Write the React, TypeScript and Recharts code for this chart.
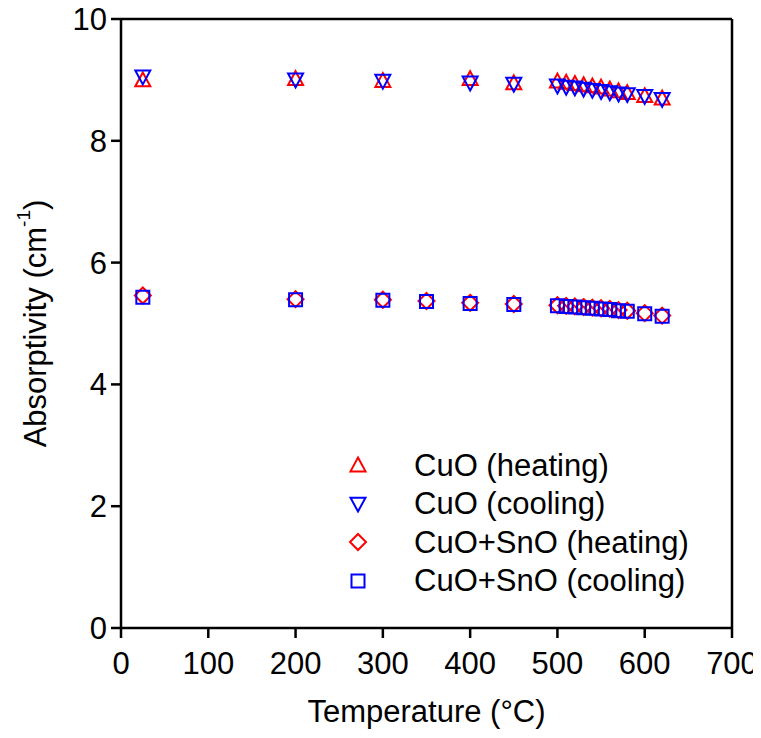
import React from "react";
import {
  ScatterChart,
  Scatter,
  XAxis,
  YAxis,
  ReferenceLine,
} from "recharts";

const cuoTemps = [25, 200, 300, 400, 450, 500, 510, 520, 530, 540, 550, 560, 570, 580, 600, 620];
const cuoHeating = [9.0, 9.02, 8.99, 9.02, 8.95, 8.98, 8.96, 8.94, 8.92, 8.9, 8.88, 8.85, 8.82, 8.79, 8.74, 8.7];
const cuoCooling = [9.05, 9.0, 8.98, 8.95, 8.93, 8.9, 8.88, 8.87, 8.85, 8.83, 8.81, 8.79, 8.77, 8.76, 8.73, 8.68];

const snoTemps = [25, 200, 300, 350, 400, 450, 500, 510, 520, 530, 540, 550, 560, 570, 580, 600, 620];
const snoHeating = [5.46, 5.4, 5.39, 5.37, 5.34, 5.32, 5.3, 5.29, 5.28, 5.27, 5.26, 5.25, 5.24, 5.22, 5.21, 5.17, 5.13];
const snoCooling = [5.43, 5.39, 5.38, 5.36, 5.33, 5.31, 5.29, 5.28, 5.27, 5.26, 5.25, 5.24, 5.23, 5.21, 5.2, 5.16, 5.12];

const xTicks = [0, 100, 200, 300, 400, 500, 600, 700];
const yTicks = [0, 2, 4, 6, 8, 10];

const seriesNames = ["CuO (heating)", "CuO (cooling)", "CuO+SnO (heating)", "CuO+SnO (cooling)"];
const seriesColors = ["#ff0000", "#0000ff", "#ff0000", "#0000ff"];
const seriesShapes = ["up", "down", "diamond", "square"];

const toPoints = (xs: number[], ys: number[]) => xs.map((x, i) => ({ x, y: ys[i] }));

const FONT = "'Liberation Sans', Arial, sans-serif";
const FS = 31;

function markerPath(kind: string, cx: number, cy: number): string {
  const s = 7.5;
  if (kind === "up") {
    return `M${cx},${cy - s} L${cx + s},${cy + s * 0.85} L${cx - s},${cy + s * 0.85} Z`;
  }
  if (kind === "down") {
    return `M${cx},${cy + s} L${cx + s},${cy - s * 0.85} L${cx - s},${cy - s * 0.85} Z`;
  }
  if (kind === "diamond") {
    const d = 8;
    return `M${cx},${cy - d} L${cx + d},${cy} L${cx},${cy + d} L${cx - d},${cy} Z`;
  }
  const q = 6.5;
  return `M${cx - q},${cy - q} L${cx + q},${cy - q} L${cx + q},${cy + q} L${cx - q},${cy + q} Z`;
}

const makeShape = (kind: string, color: string) => (props: any) => {
  const { cx, cy } = props;
  if (cx == null || cy == null) return <g />;
  return <path d={markerPath(kind, cx, cy)} fill="none" stroke={color} strokeWidth={2} />;
};

const LegendBox = () => (
  <div
    style={{
      position: "absolute",
      left: 343,
      top: 446,
      fontFamily: FONT,
      fontSize: FS,
      color: "#000",
      lineHeight: 1,
    }}
  >
    {seriesNames.map((name, i) => (
      <div key={name} style={{ display: "flex", alignItems: "center", height: 38.5 }}>
        <svg width={30} height={30} style={{ marginRight: 41 }}>
          <path d={markerPath(seriesShapes[i], 15, 15)} fill="none" stroke={seriesColors[i]} strokeWidth={2} />
        </svg>
        <span style={{ whiteSpace: "nowrap" }}>{name}</span>
      </div>
    ))}
  </div>
);

const YLabel = (props: any) => {
  const vb = props.viewBox || {};
  const cx = 35;
  const cy = (vb.y ?? 0) + (vb.height ?? 0) / 2;
  return (
    <text
      x={cx}
      y={cy}
      transform={`rotate(-90, ${cx}, ${cy})`}
      textAnchor="middle"
      dominantBaseline="central"
      fontFamily={FONT}
      fontSize={FS}
      fill="#000"
    >
      Absorptivity (cm
      <tspan fontSize={19} dy={-12}>-1</tspan>
      <tspan dy={12}>)</tspan>
    </text>
  );
};

const XLabel = (props: any) => {
  const vb = props.viewBox || {};
  const cx = (vb.x ?? 0) + (vb.width ?? 0) / 2;
  return (
    <text x={cx} y={722} textAnchor="middle" fontFamily={FONT} fontSize={FS} fill="#000">
      Temperature (°C)
    </text>
  );
};

export default function App() {
  React.useEffect(() => {
    document.body.style.overflow = "hidden";
  }, []);
  const data = [
    toPoints(cuoTemps, cuoHeating),
    toPoints(cuoTemps, cuoCooling),
    toPoints(snoTemps, snoHeating),
    toPoints(snoTemps, snoCooling),
  ];
  const axisStyle = { stroke: "#000", strokeWidth: 2.5 };
  const tickStyle = { fill: "#000", fontSize: FS, fontFamily: FONT };
  return (
    <div
      style={{
        position: "relative",
        width: 761,
        height: 738,
        margin: "-8px 0 0 -8px",
        background: "#fff",
      }}
    >
      <ScatterChart
        width={761}
        height={738}
        margin={{ top: 19, right: 29, left: 21, bottom: 20 }}
      >
        <XAxis
          type="number"
          dataKey="x"
          domain={[0, 700]}
          ticks={xTicks}
          allowDataOverflow
          height={90}
          tickSize={10}
          tickMargin={14}
          axisLine={axisStyle}
          tickLine={axisStyle}
          tick={tickStyle}
          label={{ content: XLabel }}
        />
        <YAxis
          type="number"
          dataKey="y"
          domain={[0, 10]}
          ticks={yTicks}
          allowDataOverflow
          width={100}
          tickSize={10}
          tickMargin={4}
          axisLine={axisStyle}
          tickLine={axisStyle}
          tick={tickStyle}
          label={{ content: YLabel }}
        />
        <ReferenceLine y={10} stroke="#000" strokeWidth={2.5} ifOverflow="visible" />
        <ReferenceLine x={700} stroke="#000" strokeWidth={2.5} ifOverflow="visible" />
        {data.map((pts, i) => (
          <Scatter
            key={seriesNames[i]}
            name={seriesNames[i]}
            data={pts}
            isAnimationActive={false}
            shape={makeShape(seriesShapes[i], seriesColors[i])}
          />
        ))}
      </ScatterChart>
      <LegendBox />
    </div>
  );
}
